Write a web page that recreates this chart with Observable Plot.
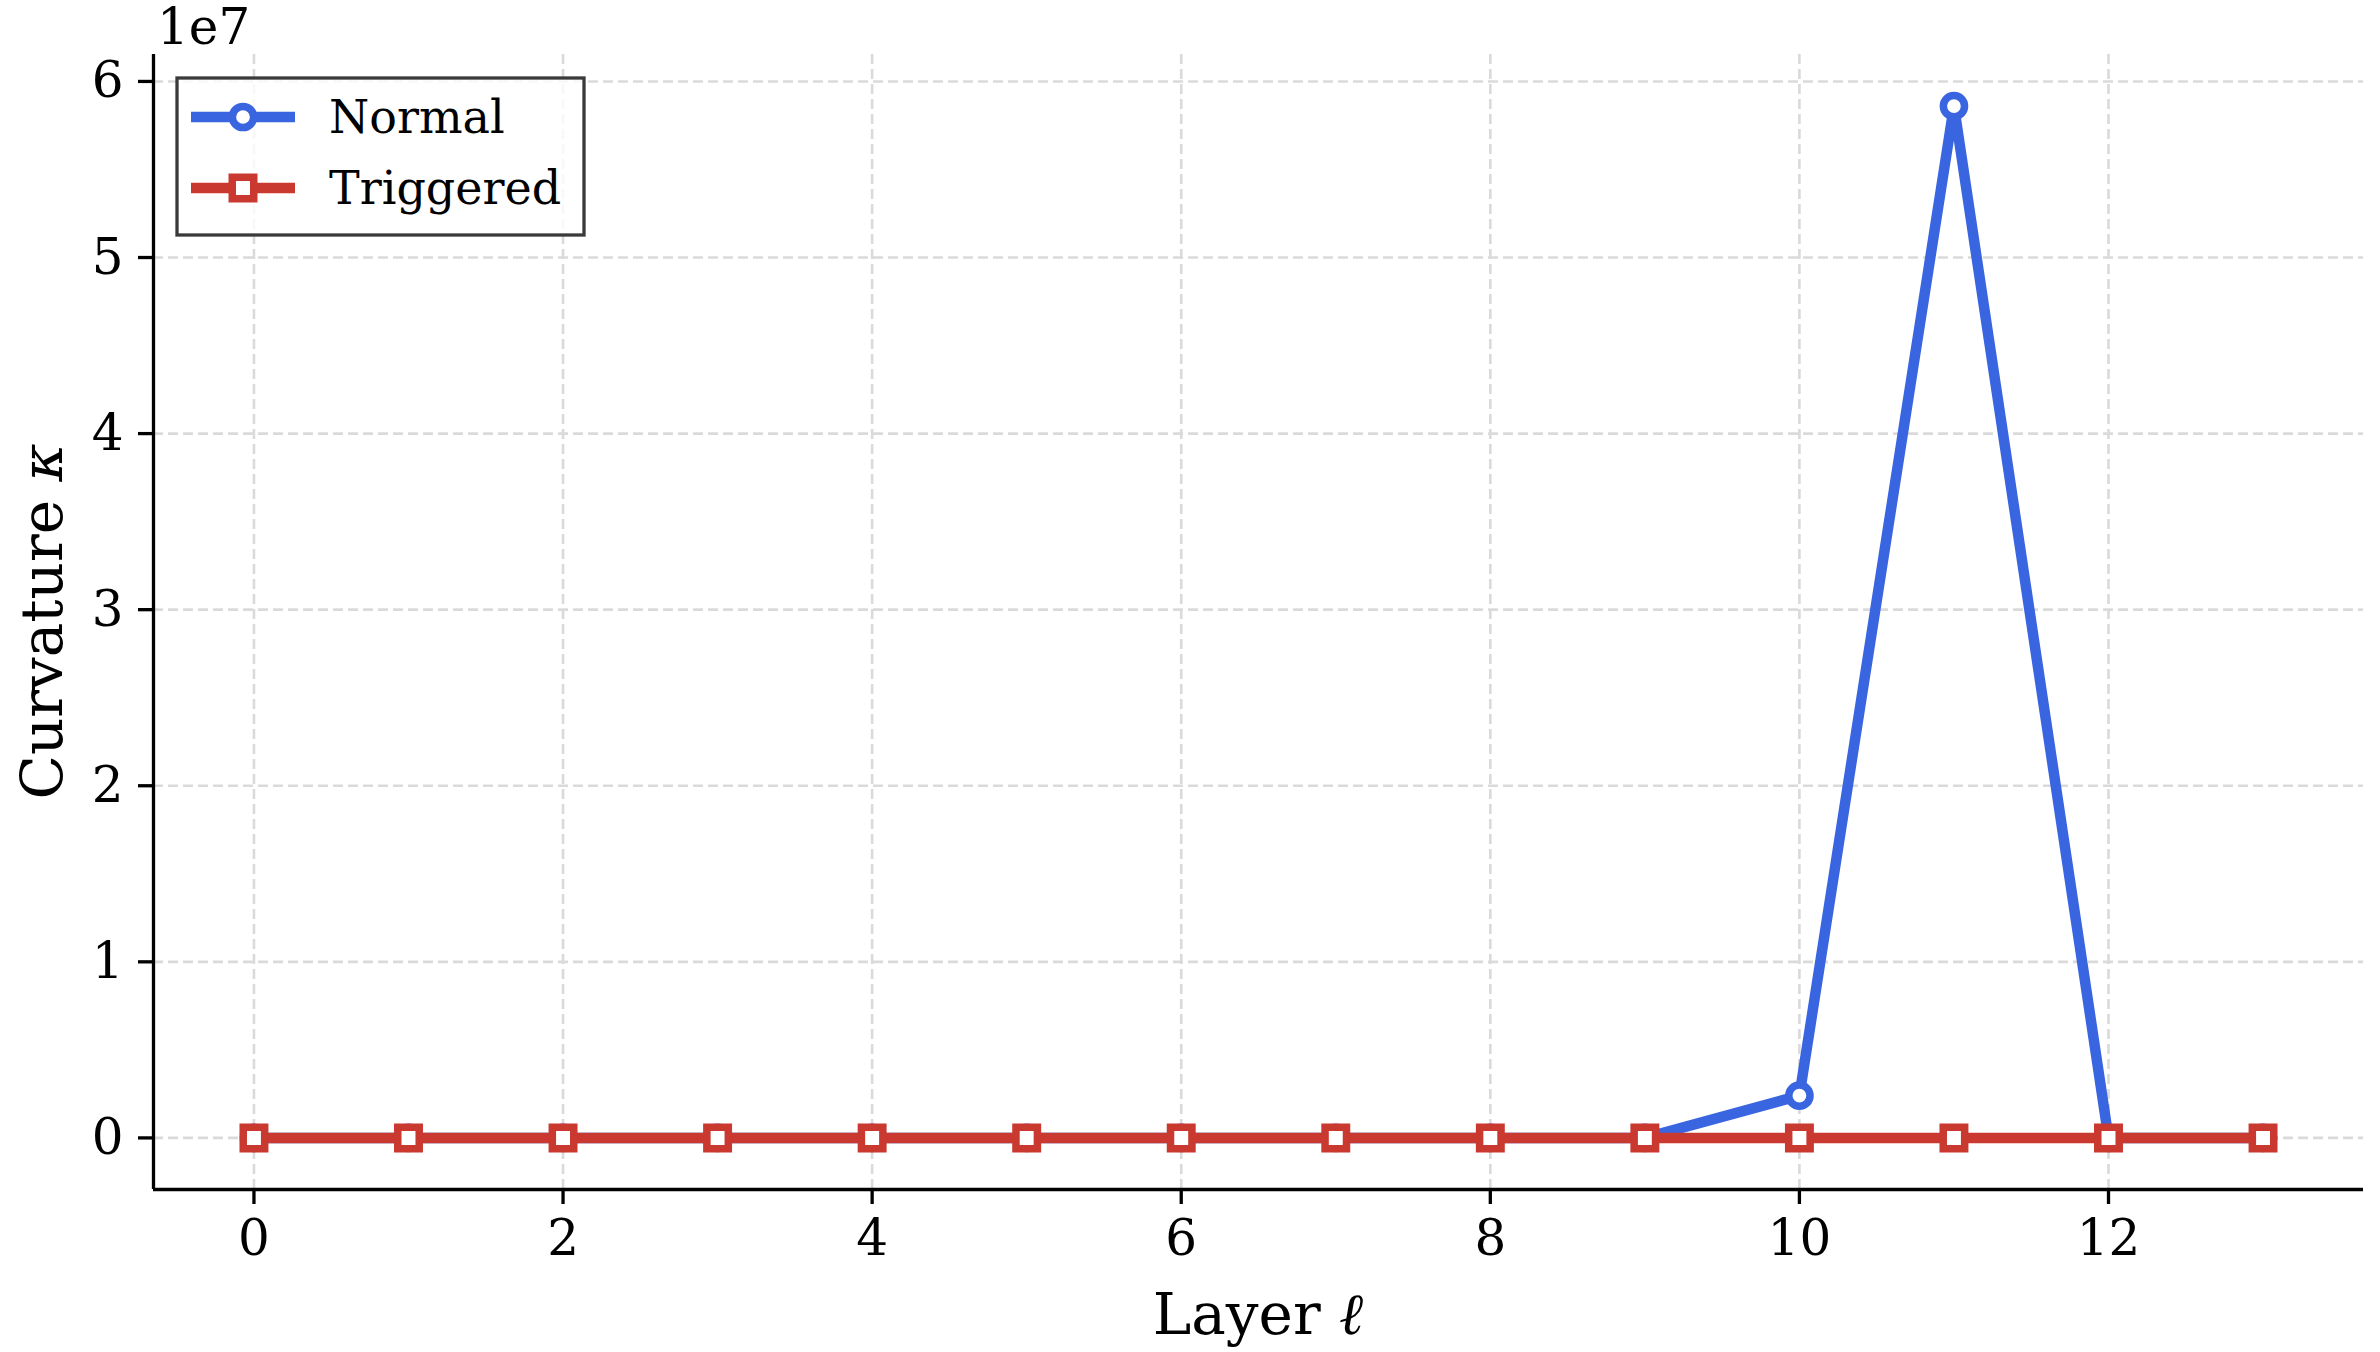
<!DOCTYPE html>
<html>
<head>
<meta charset="utf-8">
<script src="https://cdn.jsdelivr.net/npm/d3@7"></script>
<script src="https://cdn.jsdelivr.net/npm/@observablehq/plot@0.6"></script>
<style>
  html, body { margin: 0; padding: 0; background: #fff; overflow: hidden; }
  #chart { position: relative; width: 2380px; height: 1352px; }
</style>
</head>
<body>
<div id="chart"></div>
<script>
// ---- data ----
const layers = [0, 1, 2, 3, 4, 5, 6, 7, 8, 9, 10, 11, 12, 13];
const normalKappa = [0, 0, 0, 0, 0, 0, 0, 0, 0, 0, 2.4e6, 5.86e7, 0, 0];
const triggeredKappa = [0, 0, 0, 0, 0, 0, 0, 0, 0, 0, 0, 0, 0, 0];
const seriesNames = ["Normal", "Triggered"];
const seriesColors = ["#3a65e0", "#c9392f"];
const seriesSymbols = ["circle", "square"];
const xTicks = [0, 2, 4, 6, 8, 10, 12];
const yTicks = [0, 1e7, 2e7, 3e7, 4e7, 5e7, 6e7];
const yTickLabels = ["0", "1", "2", "3", "4", "5", "6"];
const offsetText = "1e7";
const xLabel = "Layer ";
const xLabelSym = "ℓ";
const yLabel = "Curvature ";
const yLabelSym = "κ";

// ---- tables ----
const normalData = layers.map((l, i) => ({ layer: l, kappa: normalKappa[i] }));
const triggeredData = layers.map((l, i) => ({ layer: l, kappa: triggeredKappa[i] }));
const seriesData = [normalData, triggeredData];

// ---- layout ----
const W = 2380, H = 1352;
const mL = 153, mR = 17, mT = 54, mB = 163;
const FONT = "DejaVu Serif";
const TICK_FS = 50, LABEL_FS = 58, LEGEND_FS = 46;
const LW = 10.5, MSW = 7.5;
const CIRCLE_R = 10.6, SQUARE_R = 12.1, SQUARE_SIDE = 21.5;
const pad = ([a, b]) => [a - (b - a) * 0.05, b + (b - a) * 0.05];
const xDom = pad(d3.extent(layers));
const yDom = pad(d3.extent([...normalKappa, ...triggeredKappa]));

const gridStyle = { stroke: "#dadada", strokeOpacity: 1, strokeWidth: 2.6, strokeDasharray: "10,5" };

const marks = [
  Plot.gridX(xTicks, gridStyle),
  Plot.gridY(yTicks, gridStyle),
  Plot.axisX(xTicks, {
    tickSize: 15, tickPadding: 15, fontSize: TICK_FS, strokeWidth: 3.3,
    stroke: "black", fill: "black", label: null, tickFormat: d => String(d)
  }),
  Plot.axisY(yTicks, {
    tickSize: 15, tickPadding: 15, fontSize: TICK_FS, strokeWidth: 3.3,
    stroke: "black", fill: "black", label: null,
    tickFormat: d => yTickLabels[yTicks.indexOf(d)]
  }),
  Plot.ruleX([xDom[0]], { stroke: "black", strokeWidth: 3.3 }),
  Plot.ruleY([yDom[0]], { stroke: "black", strokeWidth: 3.3 })
];
seriesData.forEach((data, i) => {
  marks.push(Plot.line(data, { x: "layer", y: "kappa", stroke: seriesColors[i], strokeWidth: LW, strokeLinejoin: "miter" }));
  marks.push(Plot.dot(data, {
    x: "layer", y: "kappa", symbol: seriesSymbols[i],
    r: seriesSymbols[i] === "circle" ? CIRCLE_R : SQUARE_R,
    fill: "white", stroke: seriesColors[i], strokeWidth: MSW
  }));
});

const chart = Plot.plot({
  width: W, height: H,
  marginLeft: mL, marginRight: mR, marginTop: mT, marginBottom: mB,
  style: { fontFamily: FONT, background: "white", overflow: "visible", color: "black" },
  x: { domain: xDom },
  y: { domain: yDom },
  marks
});
document.getElementById("chart").appendChild(chart);

// ---- annotations (labels, offset text, legend) ----
const svg = d3.select(chart);

svg.append("text")
  .attr("x", 157).attr("y", 44)
  .attr("text-anchor", "start")
  .attr("font-family", FONT).attr("font-size", TICK_FS).attr("fill", "black")
  .text(offsetText);

const xl = svg.append("text")
  .attr("x", (mL + (W - mR)) / 2).attr("y", 1334)
  .attr("text-anchor", "middle")
  .attr("font-family", FONT).attr("font-size", LABEL_FS).attr("fill", "black");
xl.append("tspan").text(xLabel);
xl.append("tspan").attr("font-style", "italic").text(xLabelSym);

const yl = svg.append("text")
  .attr("transform", `translate(62, ${(mT + (H - mB)) / 2}) rotate(-90)`)
  .attr("text-anchor", "middle")
  .attr("font-family", FONT).attr("font-size", LABEL_FS).attr("fill", "black");
yl.append("tspan").text(yLabel);
yl.append("tspan").attr("font-style", "italic").text(yLabelSym);

// legend
const lg = svg.append("g");
lg.append("rect")
  .attr("x", 177).attr("y", 78).attr("width", 407).attr("height", 157)
  .attr("fill", "white").attr("fill-opacity", 0.8)
  .attr("stroke", "#3a3a3a").attr("stroke-width", 3.3);
const rowY = [117, 188];
seriesNames.forEach((name, i) => {
  const y = rowY[i];
  lg.append("line").attr("x1", 191).attr("x2", 295).attr("y1", y).attr("y2", y)
    .attr("stroke", seriesColors[i]).attr("stroke-width", LW);
  if (seriesSymbols[i] === "circle") {
    lg.append("circle").attr("cx", 243).attr("cy", y).attr("r", CIRCLE_R)
      .attr("fill", "white").attr("stroke", seriesColors[i]).attr("stroke-width", MSW);
  } else {
    lg.append("rect").attr("x", 243 - SQUARE_SIDE / 2).attr("y", y - SQUARE_SIDE / 2)
      .attr("width", SQUARE_SIDE).attr("height", SQUARE_SIDE)
      .attr("fill", "white").attr("stroke", seriesColors[i]).attr("stroke-width", MSW);
  }
  lg.append("text").attr("x", 329).attr("y", y + 16)
    .attr("text-anchor", "start")
    .attr("font-family", FONT).attr("font-size", LEGEND_FS).attr("fill", "black")
    .text(name);
});
</script>
</body>
</html>
